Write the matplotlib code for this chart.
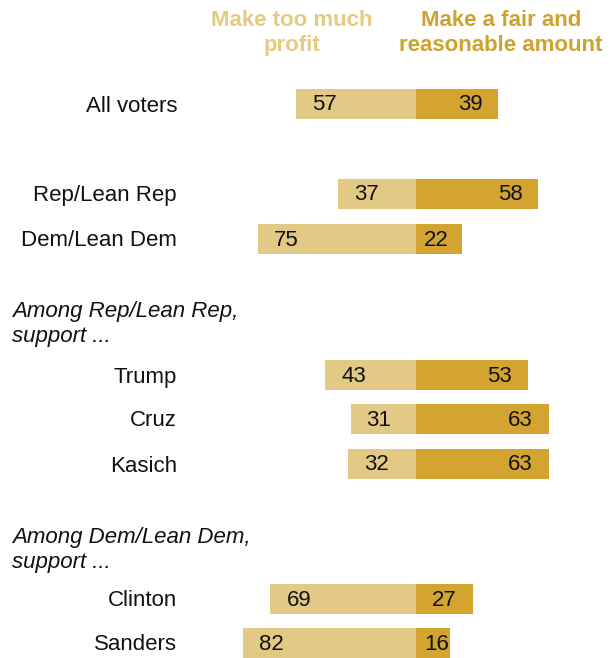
import matplotlib
matplotlib.use("Agg")
import matplotlib.pyplot as plt

categories = ["All voters", "Rep/Lean Rep", "Dem/Lean Dem",
              "Trump", "Cruz", "Kasich", "Clinton", "Sanders"]
too_much = [57, 37, 75, 43, 31, 32, 69, 82]
fair = [39, 58, 22, 53, 63, 63, 27, 16]

# row centres in pixel units (top = 0)
rows = [104, 194, 239, 375, 419, 464, 599, 643]

light = "#E2C985"
dark = "#D3A42F"
plt.rcParams["font.family"] = ["Liberation Sans", "DejaVu Sans"]

fig = plt.figure(figsize=(6.13, 6.58), dpi=100)
ax = fig.add_axes([0, 0, 1, 1])
scale = 2.11  # px per percentage point
zero_px = 416
ax.set_xlim(-zero_px / scale, (613 - zero_px) / scale)
ax.set_ylim(658, 0)
ax.axis("off")

ax.barh(rows, [-v for v in too_much], height=30, color=light)
ax.barh(rows, fair, height=30, color=dark)

pad = 16 / scale
for y, cat, a, b in zip(rows, categories, too_much, fair):
    ax.text(-a + pad, y + 1, str(a), ha="left", va="center", fontsize=16, color="#111111")
    ax.text(max(b - pad, 15.5), y + 1, str(b), ha="right", va="center", fontsize=16, color="#111111")
    ax.text((177 - zero_px) / scale, y + 2, cat, ha="right", va="center", fontsize=16, color="#111111")

left = -zero_px / scale + 12 / scale
ax.text(left, 324, "Among Rep/Lean Rep,\nsupport ...", ha="left", va="center",
        fontsize=16, style="italic", linespacing=1.25, color="#111111")
ax.text(left, 550, "Among Dem/Lean Dem,\nsupport ...", ha="left", va="center",
        fontsize=16, style="italic", linespacing=1.25, color="#111111")

ax.text((292 - zero_px) / scale, 33, "Make too much\nprofit", ha="center", va="center",
        fontsize=16, fontweight="bold", color="#E5CB80", linespacing=1.25)
ax.text((501 - zero_px) / scale, 33, "Make a fair and\nreasonable amount", ha="center", va="center",
        fontsize=16, fontweight="bold", color="#CFA12E", linespacing=1.25)

fig.savefig("out.png", dpi=100)
